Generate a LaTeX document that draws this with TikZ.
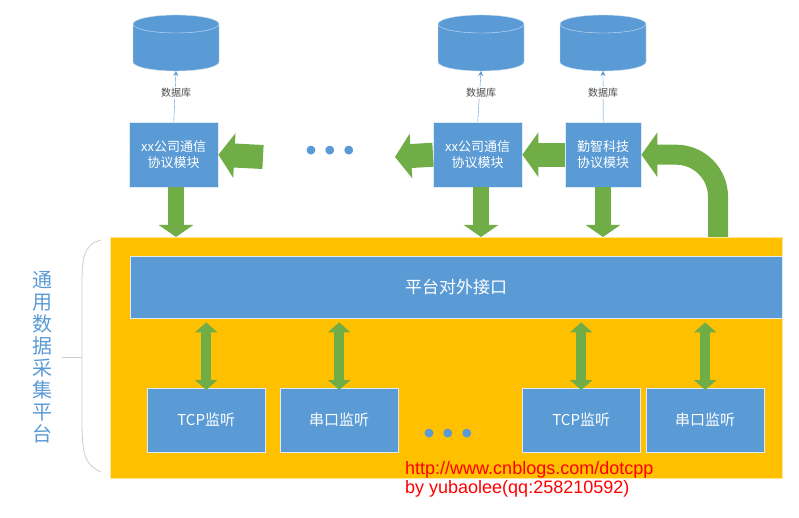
\documentclass[tikz,border=0pt]{standalone}
\usepackage{fontspec}
\setmainfont{Liberation Sans}
\newfontfamily\cjk{Noto Sans CJK SC}
\usetikzlibrary{arrows.meta,shapes.geometric}
\definecolor{bl}{HTML}{5B9BD5}
\definecolor{gr}{HTML}{70AD47}
\definecolor{yl}{HTML}{FFC000}
\begin{document}
\begin{tikzpicture}[x=1pt,y=-1pt,
  box/.style={draw=white!80!bl,fill=bl,text=white,font=\cjk\fontsize{13}{16}\selectfont,align=center,inner sep=0pt},
  dbl/.style={font=\cjk\fontsize{10}{12}\selectfont,text=black!70,fill=white,inner sep=1pt},
  thin/.style={draw=bl,-{Stealth[length=5pt,width=5pt]}},
  down/.style={draw=gr,line width=16pt,-{Triangle[width=34pt,length=12pt]}},
  left/.style={draw=gr,line width=24pt,-{Triangle[width=44pt,length=16pt]}},
  both/.style={draw=gr,line width=10pt,{Triangle[width=22pt,length=10pt]}-{Triangle[width=22pt,length=10pt]}},
  dots/.style={font=\bfseries\fontsize{30}{30}\selectfont,text=bl}]
\useasboundingbox (0,0) rectangle (799,518);
\node[draw=white!60!yl,fill=yl,minimum width=672pt,minimum height=241pt,anchor=north west,inner sep=0pt] (plat) at (110,237) {};
\node[box,minimum width=652pt,minimum height=62pt,anchor=north west,font=\cjk\fontsize{17}{20}\selectfont] (api) at (130,256) {平台对外接口};
\foreach \n/\x/\t in {t1/147/TCP监听,s1/280/串口监听,t2/522/TCP监听,s2/646/串口监听}
  \node[box,minimum width=118pt,minimum height=64pt,anchor=north west,font=\cjk\fontsize{15}{18}\selectfont] (\n) at (\x,388) {\t};
\foreach \n in {t1,s1,t2,s2} \draw[both] (\n.north |- api.south) ++(0,4) coordinate (a\n) -- ([yshift=-2pt]\n.north);
\node[dots] (d1) at (448,436) {• • •};
\node[dots] (d2) at (330,153) {• • •};
\node[box,minimum width=89pt,minimum height=65pt,anchor=north west] (m1) at (129,122) {xx公司通信\\协议模块};
\node[box,minimum width=89pt,minimum height=65pt,anchor=north west] (m2) at (433,122) {xx公司通信\\协议模块};
\node[box,minimum width=76pt,minimum height=65pt,anchor=north west] (m3) at (565,122) {勤智科技\\协议模块};
\foreach \i/\x in {1/176,2/481,3/603}{
  \fill[bl] (\x-43,24) -- (\x-43,62) arc[start angle=180,end angle=360,x radius=43,y radius=-9] -- (\x+43,24) -- cycle;
  \draw[draw=white!70!bl,fill=bl] (\x,24) ellipse[x radius=43,y radius=9];
  \draw[draw=white!70!bl] (\x-43,24) -- (\x-43,62) arc[start angle=180,end angle=360,x radius=43,y radius=-9] -- (\x+43,24);
  \coordinate (c\i) at (\x,71);
  \draw[thin] (m\i.north) -- (c\i);
  \node[dbl] at (\x,93) {数据库};
}
\foreach \i/\x in {1/176,2/481,3/603} \draw[down] (\x,187) -- (\x,237);
\coordinate (l2) at (395,157);
\coordinate (l1) at (263,157);
\draw[left] (m3.west) -- (m2.east);
\draw[left] (m2.west) -- (l2);
\draw[left] (l1) -- (m1.east);
\coordinate (cs) at (718,237);
\draw[draw=gr,line width=20pt,rounded corners=42pt,-{Triangle[width=44pt,length=16pt]}] (cs) |- (m3.east);
\draw[draw=black!20,line width=0.8pt] (101,240) .. controls (82,245) and (82,260) .. (82,290) -- (82,420) .. controls (82,455) and (85,465) .. (101,472);
\draw[draw=black!20,line width=0.8pt] (62,357) -- (82,357);
\node[text=bl,font=\cjk\fontsize{20}{22}\selectfont,align=center] (title) at (42,357) {通\\用\\数\\据\\采\\集\\平\\台};
\node[text=red,font=\fontsize{18}{19}\selectfont,align=left,anchor=north west,inner sep=0pt] (url) at (405,461) {http://www.cnblogs.com/dotcpp\\by yubaolee(qq:258210592)};
\end{tikzpicture}
\end{document}
